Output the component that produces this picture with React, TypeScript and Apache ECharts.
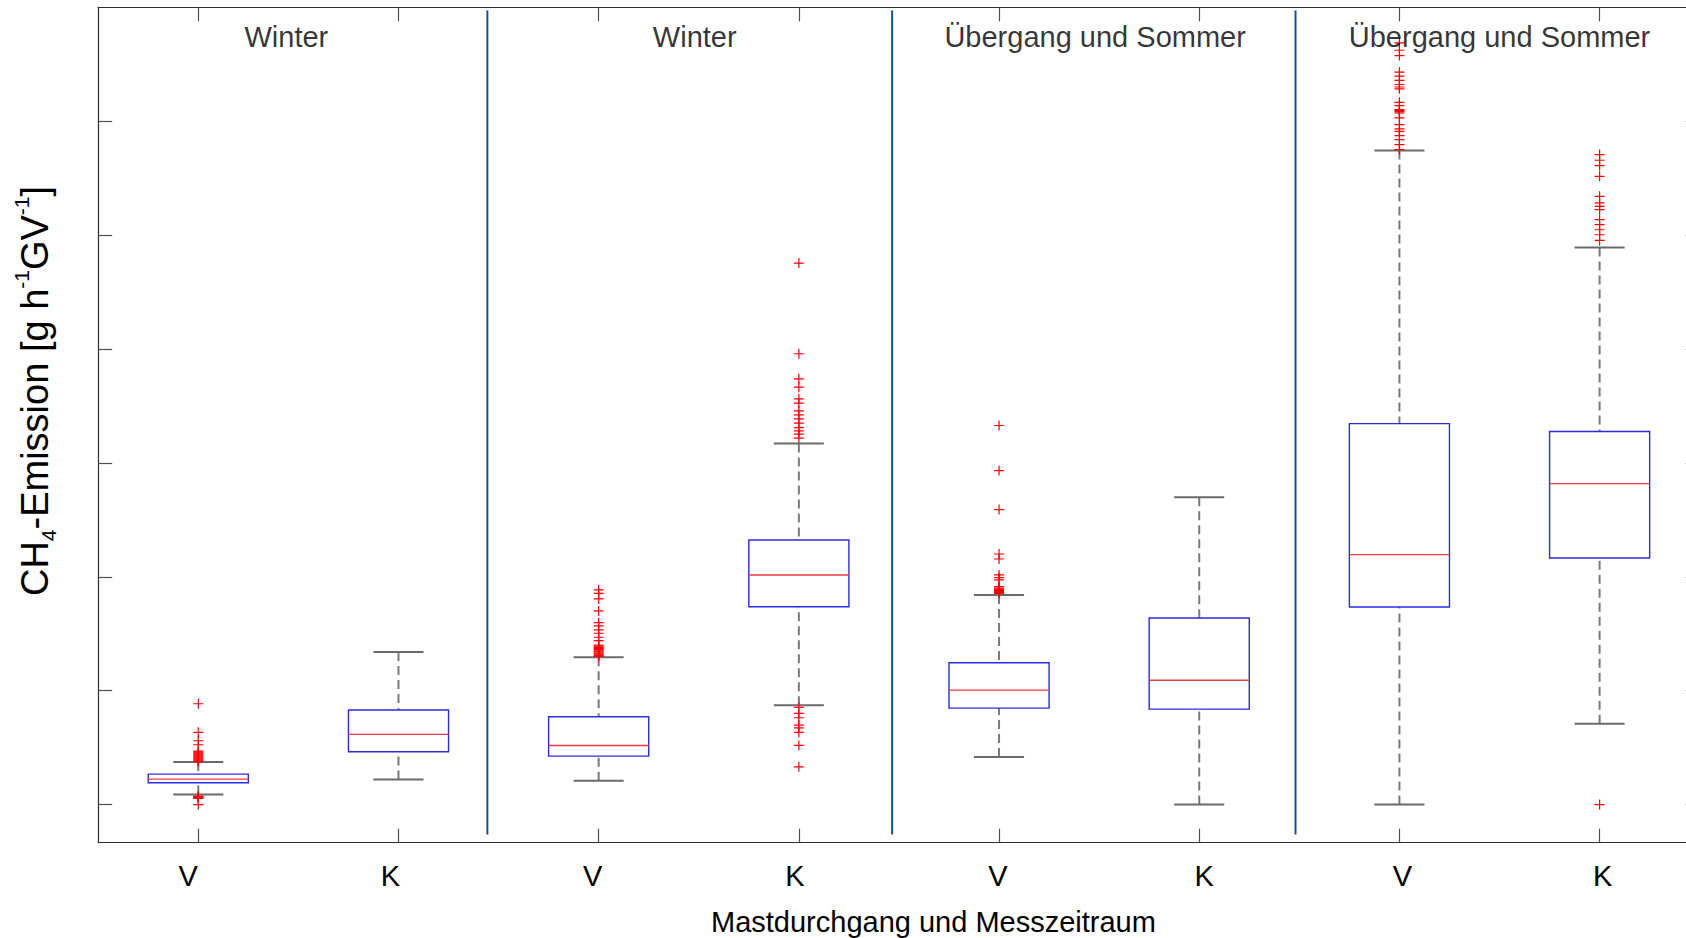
import React, { useEffect, useRef } from 'react';
import * as echarts from 'echarts';

// ---- data (y in axis units, one tick = 1 unit) ----
const categories = ['V', 'K', 'V', 'K', 'V', 'K', 'V', 'K'];
const lowerWhisker = [0.089, 0.221, 0.208, 0.871, 0.417, 0.0, 0.0, 0.709];
const q1 = [0.191, 0.463, 0.425, 1.737, 0.847, 0.838, 1.735, 2.165];
const median = [0.223, 0.616, 0.519, 2.016, 1.005, 1.091, 2.194, 2.818];
const q3 = [0.267, 0.83, 0.771, 2.323, 1.245, 1.638, 3.345, 3.275];
const upperWhisker = [0.373, 1.339, 1.293, 3.17, 1.84, 2.699, 5.742, 4.892];

const outliers: number[][] = [
  [0.885, 0.634, 0.56, 0.525, 0.469, 0.46, 0.452, 0.443, 0.434, 0.425, 0.417, 0.408, 0.399, 0.39, 0.382, 0.375,
    0.074, 0.07, 0.066, 0.062, 0.058, 0.054, 0.0],
  [],
  [1.884, 1.855, 1.805, 1.7, 1.597, 1.568, 1.533, 1.504, 1.469, 1.439, 1.4, 1.39, 1.38, 1.37, 1.36, 1.35, 1.34,
    1.33, 1.32, 1.31, 1.3],
  [4.754, 3.958, 3.738, 3.665, 3.562, 3.525, 3.457, 3.422, 3.387, 3.349, 3.31, 3.281, 3.252, 3.217,
    0.853, 0.8, 0.762, 0.698, 0.674, 0.634, 0.519, 0.331],
  [3.328, 2.932, 2.59, 2.2, 2.156, 2.016, 1.992, 1.972, 1.913, 1.9, 1.89, 1.88, 1.87, 1.86, 1.855],
  [],
  [6.688, 6.623, 6.576, 6.43, 6.395, 6.359, 6.322, 6.3, 6.284, 6.166, 6.137, 6.102, 6.095, 6.087, 6.073, 6.029,
    5.97, 5.932, 5.911, 5.874, 5.839, 5.795, 5.751],
  [5.707, 5.657, 5.61, 5.516, 5.34, 5.282, 5.252, 5.223, 5.135, 5.091, 5.047, 5.003, 4.953, 0.0],
];

const sectionTitles = ['Winter', 'Winter', 'Übergang und Sommer', 'Übergang und Sommer'];
const sectionTitleX = [0.44, 2.48, 4.48, 6.5];
const sectionTitleY = 6.74;
const separatorX = [1.444, 3.466, 5.481];
const separatorRange = [-0.263, 6.972];
const yTicks = [0, 1, 2, 3, 4, 5, 6];
const yMin = -0.335;
const yMax = 7.0;

const xAxisName = 'Mastdurchgang und Messzeitraum';

// style: small horizontal nudges of the tick labels (px), as in the original figure
const labelNudge = [-10, -8, -6, -4, -1, 5, 3, 3];

const FONT = '"Liberation Sans", Arial, Helvetica, sans-serif';

export default function App() {
  const ref = useRef<HTMLDivElement>(null);

  useEffect(() => {
    if (!ref.current) return;
    document.documentElement.style.overflow = 'hidden';
    document.body.style.margin = '0';
    document.body.style.overflow = 'hidden';
    const chart = echarts.init(ref.current, null, { renderer: 'svg' });

    const boxData = categories.map((_, i) => [i, lowerWhisker[i], q1[i], median[i], q3[i], upperWhisker[i]]);
    const outlierData: number[][] = [];
    outliers.forEach((arr, i) => arr.forEach((v) => outlierData.push([i, v])));

    const labelRich: any = {};
    labelNudge.forEach((d, i) => {
      labelRich['l' + i] = {
        fontSize: 29,
        color: '#000',
        fontFamily: FONT,
        padding: d < 0 ? [0, -2 * d, 0, 0] : [0, 0, 0, 2 * d],
      };
    });

    const tickCommon = {
      show: true,
      inside: true,
      length: 14,
      lineStyle: { color: '#505050', width: 1.2 },
    };
    const lineCommon = { show: true, onZero: false, lineStyle: { color: '#2e2e2e', width: 1.2 } };

    const option: any = {
      animation: false,
      textStyle: { fontFamily: FONT },
      grid: {
        left: 98.2,
        top: 7.3,
        width: 1601.5,
        height: 835.4,
        containLabel: false,
        outerBoundsMode: 'none',
      },
      xAxis: [
        {
          type: 'category',
          data: categories,
          position: 'bottom',
          boundaryGap: true,
          axisLine: lineCommon,
          axisTick: { ...tickCommon, alignWithLabel: true },
          axisLabel: {
            fontSize: 29,
            color: '#000',
            margin: 19,
            fontFamily: FONT,
            formatter: (v: string, i: number) => '{l' + i + '|' + v + '}',
            rich: labelRich,
          },
          splitLine: { show: false },
          name: xAxisName,
          nameLocation: 'middle',
          nameGap: 65,
          nameTextStyle: { fontSize: 29, color: '#000', fontFamily: FONT, padding: [0, 0, 0, 69] },
        },
        {
          type: 'category',
          data: categories,
          position: 'top',
          boundaryGap: true,
          axisLine: lineCommon,
          axisTick: { ...tickCommon, alignWithLabel: true },
          axisLabel: { show: false },
          splitLine: { show: false },
        },
        { type: 'value', min: -0.5, max: 7.5, show: false, axisLine: { onZero: false } },
      ],
      yAxis: [
        {
          type: 'value',
          min: yMin,
          max: yMax,
          position: 'left',
          axisLine: lineCommon,
          axisTick: { ...tickCommon, customValues: yTicks },
          axisLabel: { show: false, customValues: yTicks },
          splitLine: { show: false },
        },
        {
          type: 'value',
          min: yMin,
          max: yMax,
          position: 'right',
          axisLine: lineCommon,
          axisTick: { ...tickCommon, customValues: yTicks },
          axisLabel: { show: false, customValues: yTicks },
          splitLine: { show: false },
        },
      ],
      series: [
        {
          type: 'custom',
          xAxisIndex: 0,
          yAxisIndex: 0,
          z: 2,
          data: boxData,
          encode: { x: 0, y: [1, 2, 3, 4, 5] },
          renderItem: (params: any, api: any) => {
            const i = api.value(0);
            const lw = api.coord([i, api.value(1)]);
            const pq1 = api.coord([i, api.value(2)]);
            const pmed = api.coord([i, api.value(3)]);
            const pq3 = api.coord([i, api.value(4)]);
            const uw = api.coord([i, api.value(5)]);
            const band = api.size([1, 0])[0];
            const boxW = band * 0.5;
            const capW = band * 0.25;
            const cx = pmed[0];
            const whisk = { stroke: '#7a7a7a', lineWidth: 2, lineDash: [9, 5], fill: null };
            const cap = { stroke: '#6a6a6a', lineWidth: 2, fill: null };
            return {
              type: 'group',
              children: [
                { type: 'line', shape: { x1: cx, y1: uw[1], x2: cx, y2: pq3[1] }, style: whisk },
                { type: 'line', shape: { x1: cx, y1: lw[1], x2: cx, y2: pq1[1] }, style: whisk },
                { type: 'line', shape: { x1: cx - capW / 2, y1: uw[1], x2: cx + capW / 2, y2: uw[1] }, style: cap },
                { type: 'line', shape: { x1: cx - capW / 2, y1: lw[1], x2: cx + capW / 2, y2: lw[1] }, style: cap },
                {
                  type: 'rect',
                  shape: { x: cx - boxW / 2, y: pq3[1], width: boxW, height: pq1[1] - pq3[1] },
                  style: { fill: '#ffffff', stroke: '#2a2aea', lineWidth: 1.4 },
                },
                {
                  type: 'line',
                  shape: { x1: cx - boxW / 2, y1: pmed[1], x2: cx + boxW / 2, y2: pmed[1] },
                  style: { stroke: '#f03c3c', lineWidth: 1.4 },
                },
              ],
            };
          },
        },
        {
          type: 'scatter',
          xAxisIndex: 0,
          yAxisIndex: 0,
          z: 3,
          data: outlierData,
          symbol: 'path://M0,5L10,5M5,0L5,10',
          symbolSize: 10,
          itemStyle: { color: 'transparent', borderColor: '#ff0000', borderWidth: 1.2, opacity: 1 },
          emphasis: { disabled: true },
          silent: true,
        },
        ...separatorX.map((x) => ({
          type: 'line',
          xAxisIndex: 2,
          yAxisIndex: 0,
          z: 4,
          symbol: 'none',
          silent: true,
          data: [
            [x, separatorRange[0]],
            [x, separatorRange[1]],
          ],
          lineStyle: { color: '#174f94', width: 2 },
        })),
        {
          type: 'scatter',
          xAxisIndex: 2,
          yAxisIndex: 0,
          z: 5,
          symbolSize: 0,
          silent: true,
          data: sectionTitleX.map((x) => [x, sectionTitleY]),
          label: {
            show: true,
            position: 'inside',
            formatter: (p: any) => sectionTitles[p.dataIndex],
            fontSize: 29,
            color: '#000',
            fontFamily: FONT,
          },
        },
      ],
      graphic: [
        {
          type: 'text',
          x: 35,
          y: 391,
          rotation: Math.PI / 2,
          style: {
            text: '{n|CH}{sub|4}{n|-Emission [g h}{sup|-1}{n|GV}{sup|-1}{n|]}',
            align: 'center',
            verticalAlign: 'middle',
            fill: '#000',
            rich: {
              n: { fontSize: 38, lineHeight: 48, fontFamily: FONT, fill: '#000' },
              sub: { fontSize: 21, lineHeight: 24, verticalAlign: 'bottom', fontFamily: FONT, fill: '#000' },
              sup: { fontSize: 21, lineHeight: 34, verticalAlign: 'top', fontFamily: FONT, fill: '#000' },
            },
          },
        },
      ],
    };

    chart.setOption(option);
    const svg = ref.current.querySelector('svg') as SVGElement | null;
    if (svg) svg.style.display = 'block';
    return () => chart.dispose();
  }, []);

  return (
    <div
      style={{
        position: 'absolute',
        left: 0,
        top: 0,
        width: 1686,
        height: 938,
        overflow: 'hidden',
        background: '#ffffff',
        lineHeight: 0,
        fontSize: 0,
      }}
    >
      <div ref={ref} style={{ position: 'absolute', left: 0, top: 0, width: 1720, height: 938, overflow: 'hidden' }} />
    </div>
  );
}
